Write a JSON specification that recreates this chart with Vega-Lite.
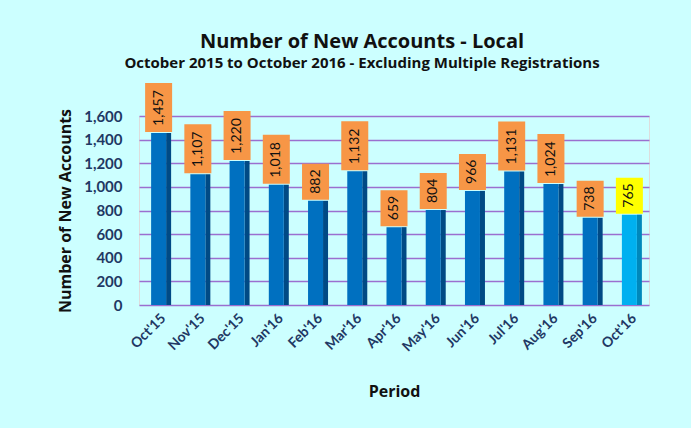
{
  "$schema": "https://vega.github.io/schema/vega-lite/v6.json",
  "width": 510,
  "height": 189,
  "autosize": {"type": "none"},
  "padding": {"left": 139, "top": 116, "right": 42, "bottom": 123},
  "background": "#CCFFFF",
  "title": {
    "text": "Number of New Accounts - Local",
    "subtitle": "October 2015 to October 2016 - Excluding Multiple Registrations",
    "font": "Open Sans",
    "fontSize": 20,
    "fontWeight": "bold",
    "color": "#111111",
    "subtitleFont": "Open Sans",
    "subtitleFontSize": 15,
    "subtitleFontWeight": "bold",
    "subtitleColor": "#111111",
    "subtitlePadding": 4,
    "anchor": "middle",
    "dx": -32,
    "offset": 12
  },
  "data": {
    "values": [
      {"period": "Oct'15", "value": 1457},
      {"period": "Nov'15", "value": 1107},
      {"period": "Dec'15", "value": 1220},
      {"period": "Jan'16", "value": 1018},
      {"period": "Feb'16", "value": 882},
      {"period": "Mar'16", "value": 1132},
      {"period": "Apr'16", "value": 659},
      {"period": "May'16", "value": 804},
      {"period": "Jun'16", "value": 966},
      {"period": "Jul'16", "value": 1131},
      {"period": "Aug'16", "value": 1024},
      {"period": "Sep'16", "value": 738},
      {"period": "Oct'16", "value": 765}
    ]
  },
  "encoding": {
    "x": {
      "field": "period",
      "type": "nominal",
      "sort": null,
      "scale": {"paddingInner": 0, "paddingOuter": 0},
      "axis": {
        "title": "Period",
        "titleFont": "Open Sans",
        "titleFontSize": 16,
        "titleFontWeight": "bold",
        "titleColor": "#111111",
        "titlePadding": 30,
        "labelAngle": -45,
        "labelFont": "Lato",
        "labelFontSize": 14,
        "labelFontWeight": "bold",
        "labelColor": "#1F3864",
        "labelPadding": 6,
        "ticks": false,
        "domain": false
      }
    },
    "y": {
      "field": "value",
      "type": "quantitative",
      "scale": {"domain": [0, 1600], "nice": false},
      "axis": {
        "title": "Number of New Accounts",
        "titleFont": "Open Sans",
        "titleFontSize": 16,
        "titleFontWeight": "bold",
        "titleColor": "#111111",
        "titlePadding": 10,
        "values": [0, 200, 400, 600, 800, 1000, 1200, 1400, 1600],
        "format": ",d",
        "labelFont": "Lato",
        "labelFontSize": 15,
        "labelFontWeight": "bold",
        "labelColor": "#1F3864",
        "labelPadding": 17,
        "ticks": false,
        "domain": false,
        "grid": true,
        "gridColor": "#9B6FCF",
        "gridWidth": 1.6
      }
    }
  },
  "layer": [
    {
      "mark": {"type": "bar", "width": 5, "xOffset": 10},
      "encoding": {
        "color": {
          "condition": {"test": "datum.period == \"Oct'16\"", "value": "#0088BB"},
          "value": "#004A85"
        }
      }
    },
    {
      "mark": {"type": "bar", "width": 15, "xOffset": 0},
      "encoding": {
        "color": {
          "condition": {"test": "datum.period == \"Oct'16\"", "value": "#00B0F0"},
          "value": "#0070C0"
        }
      }
    },
    {
      "mark": {"type": "point", "filled": true, "opacity": 1, "size": 4, "strokeWidth": 0},
      "encoding": {
        "shape": {
          "condition": {"test": "datum.value >= 1000", "value": "M-13.5,-50H13.5V-1H-13.5Z"},
          "value": "M-13.5,-37H13.5V-1H-13.5Z"
        },
        "color": {
          "condition": {"test": "datum.period == \"Oct'16\"", "value": "#FFFF00"},
          "value": "#F79646"
        }
      }
    },
    {
      "mark": {"type": "text", "angle": 270, "align": "left", "baseline": "middle", "dx": 7, "font": "Lato", "fontSize": 14, "color": "#111111"},
      "encoding": {
        "text": {"field": "value", "type": "quantitative", "format": ",d"}
      }
    }
  ]
}
